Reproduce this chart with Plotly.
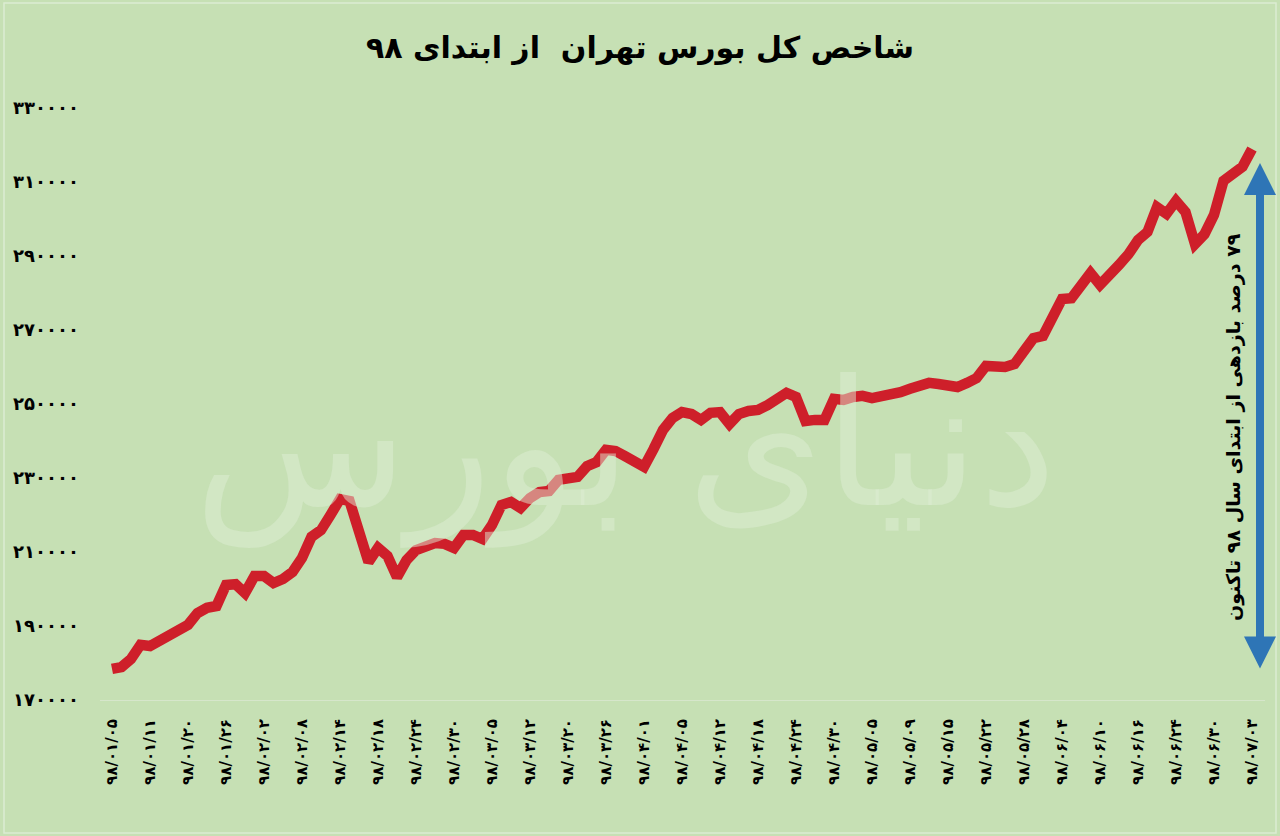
import plotly.graph_objects as go

# ---- data ----
index_values = [
    178400, 178900, 181100, 184900, 184600, 185900, 187600, 188400, 190300, 193500,
    194900, 195400, 201100, 201300, 198900, 203500, 203500, 201600, 202700, 204600,
    208400, 214100, 215900, 220000, 224300, 223800, 216500, 207300, 211100, 208900,
    203200, 207800, 210500, 211600, 212400, 212200, 211100, 214600, 214600, 213500,
    217300, 222700, 223500, 221900, 224600, 226200, 226500, 229500, 230000, 230300,
    233200, 234300, 237600, 237300, 235900, 234100, 233000, 237800, 243000, 246200,
    247800, 247300, 245700, 247600, 247800, 244600, 247300, 248100, 248400, 249700,
    251100, 253000, 251900, 245400, 245700, 245700, 251400, 251100, 251900, 252200,
    251600, 251900, 252400, 253200, 254100, 254600, 255700, 255400, 254900, 254600,
    255700, 257000, 260300, 260300, 260000, 260800, 264100, 267800, 268400, 273800,
    278400, 278600, 282200, 285400, 282200, 284600, 287600, 290500, 294300, 296500,
    303200, 301400, 304900, 301900, 293200, 295900, 301100, 310300, 311900, 314100,
    318900,
]

date_labels = [
    "۹۸/۰۱/۰۵", "۹۸/۰۱/۱۱", "۹۸/۰۱/۲۰", "۹۸/۰۱/۲۶", "۹۸/۰۲/۰۲", "۹۸/۰۲/۰۸",
    "۹۸/۰۲/۱۴", "۹۸/۰۲/۱۸", "۹۸/۰۲/۲۴", "۹۸/۰۲/۳۰", "۹۸/۰۳/۰۵", "۹۸/۰۳/۱۲",
    "۹۸/۰۳/۲۰", "۹۸/۰۳/۲۶", "۹۸/۰۴/۰۱", "۹۸/۰۴/۰۵", "۹۸/۰۴/۱۲", "۹۸/۰۴/۱۸",
    "۹۸/۰۴/۲۴", "۹۸/۰۴/۳۰", "۹۸/۰۵/۰۵", "۹۸/۰۵/۰۹", "۹۸/۰۵/۱۵", "۹۸/۰۵/۲۲",
    "۹۸/۰۵/۲۸", "۹۸/۰۶/۰۴", "۹۸/۰۶/۱۰", "۹۸/۰۶/۱۶", "۹۸/۰۶/۲۴", "۹۸/۰۶/۳۰",
    "۹۸/۰۷/۰۳",
]

y_tick_values = [170000, 190000, 210000, 230000, 250000, 270000, 290000, 310000, 330000]
y_tick_labels = ["۱۷۰۰۰۰", "۱۹۰۰۰۰", "۲۱۰۰۰۰", "۲۳۰۰۰۰", "۲۵۰۰۰۰",
                 "۲۷۰۰۰۰", "۲۹۰۰۰۰", "۳۱۰۰۰۰", "۳۳۰۰۰۰"]

title_text = "شاخص کل بورس تهران  از ابتدای ۹۸"
note_text = "\u200f۷۹ درصد بازدهی از ابتدای سال ۹۸ تاکنون"
watermark_text = "دنیای بورس"

# ---- derived ----
x_positions = list(range(len(index_values)))
label_step = 4
label_positions = x_positions[::label_step][:len(date_labels)]

BG = "#C6E0B4"
FONT = "DejaVu Sans"

fig = go.Figure()

fig.add_trace(go.Scatter(
    x=x_positions,
    y=index_values,
    mode="lines",
    line=dict(color="#CE1F2A", width=10.5, shape="linear"),
    hoverinfo="y",
    showlegend=False,
))

# plot area: left 100px, right 1265px, top 108px, bottom 700px
L, R, T, B = 100, 15, 108, 136
W, H = 1280, 836
pw = W - L - R
ph = H - T - B

def px_x(p):
    return (p - L) / pw

def px_y(p):
    return (H - B - p) / ph

fig.update_layout(
    width=W,
    height=H,
    paper_bgcolor=BG,
    plot_bgcolor=BG,
    margin=dict(l=L, r=R, t=T, b=B, autoexpand=False),
    font=dict(family=FONT, color="#000000"),
    title=dict(
        text="<b>" + title_text + "</b>",
        x=0.5, xanchor="center",
        y=1 - 47 / H, yanchor="middle",
        font=dict(size=30, family=FONT, color="#000000"),
    ),
    xaxis=dict(
        range=[-12 / 9.5, -12 / 9.5 + pw / 9.5],
        tickmode="array",
        tickvals=label_positions,
        ticktext=["<b>" + t + "</b>" for t in date_labels],
        tickangle=-90,
        tickfont=dict(size=15, family=FONT, color="#000000"),
        showgrid=False,
        zeroline=False,
        showline=True,
        linecolor="#D6E6CB",
        linewidth=1,
        ticks="",
        ticklabelstandoff=12,
        automargin=False,
        fixedrange=True,
    ),
    yaxis=dict(
        range=[170000, 330000],
        tickmode="array",
        tickvals=y_tick_values,
        ticktext=["<b>" + t + "</b>" for t in y_tick_labels],
        tickfont=dict(size=18, family=FONT, color="#000000"),
        showgrid=False,
        zeroline=False,
        showline=False,
        ticks="",
        ticklabelstandoff=20,
        automargin=False,
        fixedrange=True,
    ),
)

# faint watermark
fig.add_annotation(
    xref="paper", yref="paper",
    x=px_x(625), y=px_y(445),
    text=watermark_text,
    showarrow=False,
    font=dict(size=175, family=FONT, color="rgba(222,238,212,0.5)"),
    xanchor="center", yanchor="middle",
)

# double-headed blue arrow
fig.add_annotation(
    xref="paper", yref="paper",
    x=px_x(1260), y=px_y(163),
    ax=0, ay=670 - 163,
    text="",
    showarrow=True,
    arrowside="end+start",
    arrowhead=2, startarrowhead=2,
    arrowsize=0.8, startarrowsize=0.8,
    arrowwidth=8,
    arrowcolor="#2E75B6",
)

# rotated note text
fig.add_annotation(
    xref="paper", yref="paper",
    x=px_x(1233), y=px_y(427),
    text="<b>" + note_text + "</b>",
    textangle=-90,
    showarrow=False,
    font=dict(size=19, family=FONT, color="#000000"),
    xanchor="center", yanchor="middle",
)

# chart border
fig.add_shape(
    type="rect", xref="paper", yref="paper",
    x0=px_x(4), x1=px_x(1276), y0=px_y(833), y1=px_y(3),
    line=dict(color="#DCEBD2", width=1.5),
    fillcolor="rgba(0,0,0,0)",
    layer="below",
)

fig.write_html(
    "out.html",
    config={"displayModeBar": False},
    post_script="document.body.style.margin='0px';document.body.style.overflow='hidden';",
)
